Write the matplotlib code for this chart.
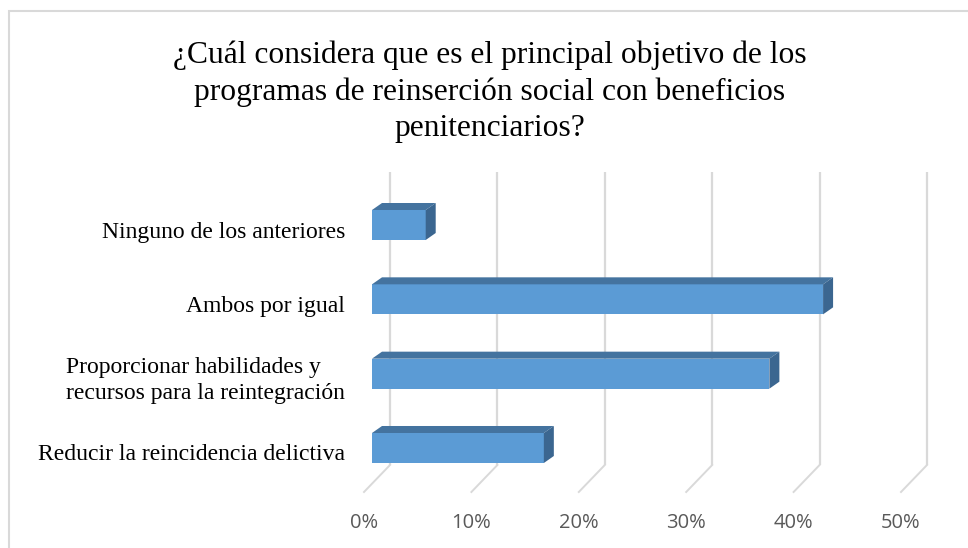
import numpy as np
import matplotlib.pyplot as plt
from matplotlib.patches import Polygon, Rectangle

# data
categories = ['Reducir la reincidencia delictiva',
              'Proporcionar habilidades y\nrecursos para la reintegración',
              'Ambos por igual',
              'Ninguno de los anteriores']
values = [0.16, 0.37, 0.42, 0.05]
ticks = [0, 0.1, 0.2, 0.3, 0.4, 0.5]
tick_labels = ['0%', '10%', '20%', '30%', '40%', '50%']
title = ('¿Cuál considera que es el principal objetivo de los\n'
         'programas de reinserción social con beneficios\n'
         'penitenciarios?')

W, H = 968, 548
fig = plt.figure(figsize=(W / 100, H / 100), dpi=100)
ax = fig.add_axes([372 / W, (H - 492) / H, 537 / W, 320 / H])

xmax = 0.5
unit = 74.33                 # pixels between categories
ymin = -44 / unit
ymax = 3 + 53 / unit
ax.set_xlim(0, xmax)
ax.set_ylim(ymin, ymax)
ax.axis('off')

px = xmax / 537              # data units per pixel (x)
py = 1 / unit                # data units per pixel (y)

## back wall gridlines + floor lines (fake 3d)
grid_c = '#d9d9d9'
back_dx = 18 * px
back_y = ymin + 27 * py
front_dx = -8 * px
for t in ticks:
    ax.plot([t + back_dx, t + back_dx], [back_y, ymax], color=grid_c,
            lw=1.6, clip_on=False, zorder=1, solid_capstyle='butt')
    ax.plot([t + front_dx, t + back_dx], [ymin, back_y], color=grid_c,
            lw=1.4, clip_on=False, zorder=1)

## bars: front face + top + side
front_c, top_c, side_c = '#5b9bd5', '#44739f', '#3b6690'
bh = 30 * py
ddx, ddy = 10 * px, 7 * py
ypos = np.arange(len(categories))
ax.barh(ypos, values, height=bh, color=front_c, zorder=3)
for y, v in zip(ypos, values):
    top = y + bh / 2
    bot = y - bh / 2
    ax.add_patch(Polygon([(0, top), (v, top), (v + ddx, top + ddy), (ddx, top + ddy)],
                         closed=True, facecolor=top_c, edgecolor='none', zorder=3))
    ax.add_patch(Polygon([(v, bot), (v, top), (v + ddx, top + ddy), (v + ddx, bot + ddy)],
                         closed=True, facecolor=side_c, edgecolor='none', zorder=3))

## category labels
for y, lab in zip(ypos, categories):
    ax.text(-27 * px, y - 7 * py, lab, ha='right', va='center', multialignment='left',
            fontsize=17, family='Liberation Serif', color='black', linespacing=1.3,
            clip_on=False)

## tick labels
for t, lab in zip(ticks, tick_labels):
    ax.text(t + front_dx, ymin - 31 * py, lab, ha='center', va='center',
            fontsize=14.5, family='Open Sans', color='#595959', clip_on=False)

fig.text(490 / W, 1 - 91.5 / H, title, ha='center', va='center', multialignment='center',
         fontsize=22.7, family='Liberation Serif', linespacing=1.32)

# chart border
fig.add_artist(Rectangle((9 / W, -0.1), 1.2, (H - 11) / H + 0.1, transform=fig.transFigure,
                         fill=False, edgecolor='#d9d9d9', lw=1.5))

fig.savefig('out.png', dpi=100)
